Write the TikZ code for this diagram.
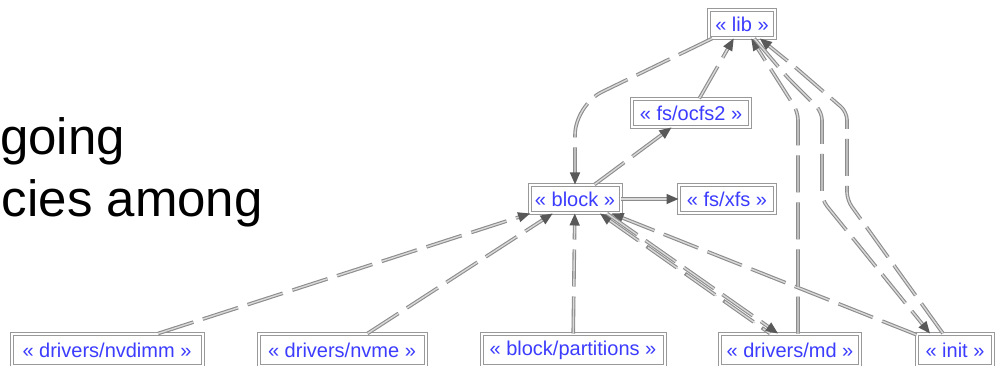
\documentclass[tikz,border=0pt]{standalone}
\usepackage{fontspec}
\setmainfont{Liberation Sans}
\usetikzlibrary{arrows.meta}

\definecolor{pkgblue}{RGB}{60,60,255}

\begin{document}
\begin{tikzpicture}[x=1pt,y=-1pt,
        pkg node/.style={draw=black!40,double=white,double distance=2pt,line width=1pt,fill=white,
            text=pkgblue,font=\fontsize{20}{24}\selectfont,minimum height=28pt,inner sep=0pt},
        low node/.style={pkg node,minimum height=32pt},
        edge base/.style={draw=black!15,line width=1.4pt,-{Triangle[length=12pt,width=10pt,color=black!65]}},
        dep edge/.style={edge base,dash pattern=on 37pt off 10pt,
            preaction={draw=black!45,line width=3.6pt,arrows=-,shorten >=10pt,dash pattern=on 37pt off 10pt}},
        back edge/.style={draw=black!15,line width=1.4pt,{Triangle[length=12pt,width=10pt,color=black!65]}-,
            dash pattern=on 37pt off 10pt,
            preaction={draw=black!45,line width=3.6pt,arrows=-,shorten <=10pt,dash pattern=on 37pt off 10pt}},
        use edge/.style={edge base,
            preaction={draw=black!45,line width=3.6pt,arrows=-,shorten >=10pt}},
        slide text/.style={anchor=base east,inner sep=0pt,font=\fontsize{51}{60}\selectfont},
    ]
    \useasboundingbox (0,0) rectangle (996,366);
    \clip (0,0) rectangle (996,366);

    \node[slide text] (line1) at (125,155) {going};
    \node[slide text] (line2) at (263,217) {cies among};

    \node[pkg node,minimum width=66pt] (lib) at (742,24) {« lib »};
    \node[pkg node,minimum width=118pt] (ocfs2) at (691,113) {« fs/ocfs2 »};
    \node[pkg node,minimum width=91pt] (block) at (575,199) {« block »};
    \node[pkg node,minimum width=96pt] (xfs) at (727,199) {« fs/xfs »};
    \node[low node,minimum width=191pt] (nvdimm) at (107,350) {« drivers/nvdimm »};
    \node[low node,minimum width=167pt] (nvme) at (342,350) {« drivers/nvme »};
    \node[low node,minimum width=183pt] (partitions) at (573,350) {« block/partitions »};
    \node[low node,minimum width=140pt] (md) at (790,350) {« drivers/md »};
    \node[low node,minimum width=76pt] (init) at (955,350) {« init »};

    \coordinate (libbend) at (575,105);
    \coordinate (mdbend) at (798,112);
    \coordinate (a1) at (847,200);
    \coordinate (a2) at (847,112);
    \coordinate (a3) at (795,67);
    \coordinate (b1) at (822,200);
    \coordinate (b2) at (822,112);
    \coordinate (b3) at (787,77);

    \draw[dep edge] (nvdimm) -- (block);
    \draw[dep edge] (nvme) -- (block);
    \draw[dep edge] (partitions) -- (block);
    \draw[dep edge] (init) -- (block);
    \draw[back edge] ([xshift=25pt]block.south) -- ([xshift=-20pt]md.north);
    \draw[dep edge] ([xshift=32pt]block.south) -- ([xshift=-12pt]md.north);
    \draw[use edge] (block) -- (xfs);
    \draw[dep edge] (block) -- (ocfs2);
    \draw[dep edge] (ocfs2) -- (lib);
    \draw[dep edge,rounded corners=30pt] (lib) -- (libbend) -- (block);
    \draw[dep edge,rounded corners=8pt] ([xshift=8pt]md.north) -- (mdbend) -- (lib);
    \draw[dep edge,rounded corners=8pt] ([xshift=-12pt]init.north) -- (a1) -- (a2) -- (a3) -- (lib);
    \draw[dep edge,rounded corners=8pt] (lib) -- (b3) -- (b2) -- (b1) -- ([xshift=-25pt]init.north);
\end{tikzpicture}
\end{document}
